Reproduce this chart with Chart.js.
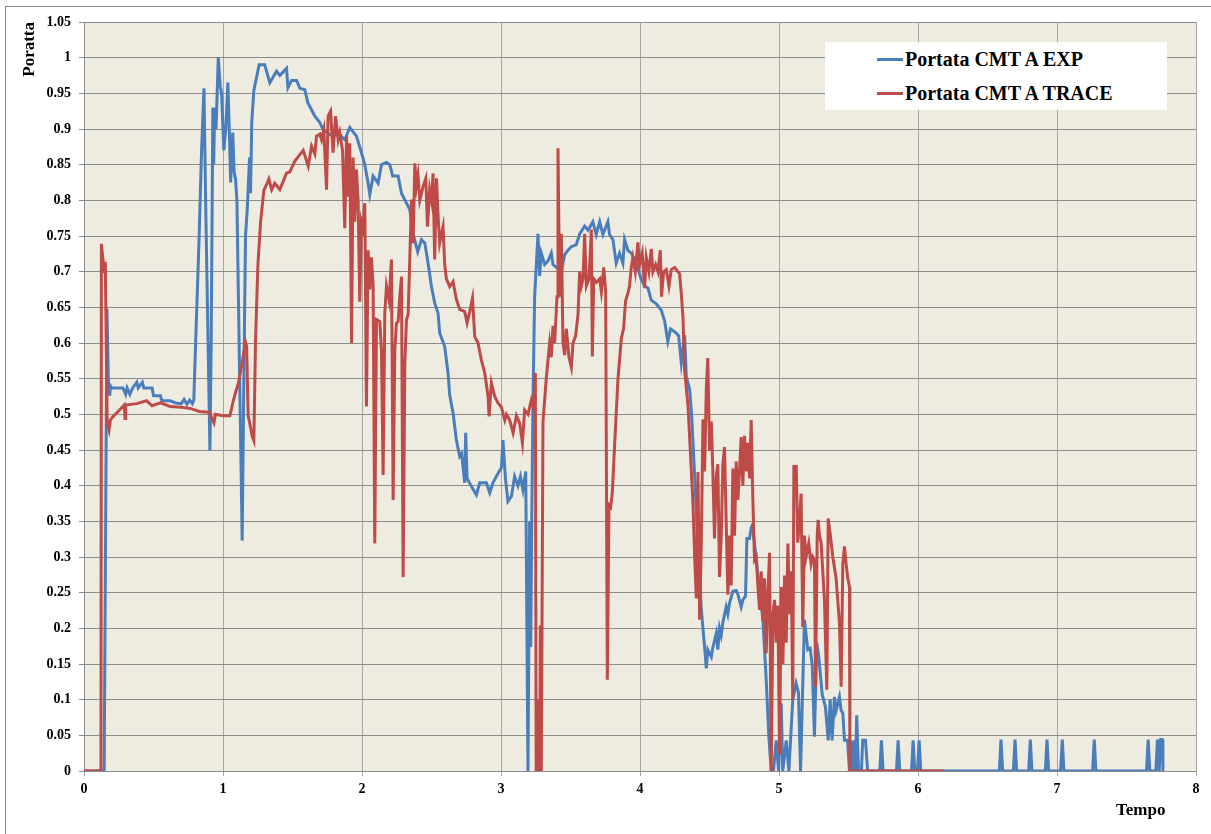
<!DOCTYPE html>
<html>
<head>
<meta charset="utf-8">
<script src="https://cdn.jsdelivr.net/npm/chart.js@4.4.1/dist/chart.umd.min.js"></script>
<style>
    html, body { margin: 0; padding: 0; background: #ffffff; overflow: hidden; }
    #wrap { position: relative; width: 1211px; height: 834px; }
    #frame { position: absolute; left: 5px; top: 6px; width: 1300px; height: 1000px; border: 1px solid #8a8a8a; }
    #chart { position: absolute; left: 0; top: 0; }
    .serif { font-family: "Liberation Serif", "Times New Roman", serif; font-weight: bold; color: #000; }
    #legend { position: absolute; left: 825px; top: 42px; width: 342px; height: 68px; background: #ffffff; }
    .row { display: flex; align-items: center; height: 34px; padding-left: 52px; font-size: 20px; }
    .swatch { width: 26px; height: 3px; margin-right: 2px; }
    #xTitle { position: absolute; left: 1116px; top: 800px; line-height: 20px; font-size: 17px; }
</style>
</head>
<body>
<div id="wrap">
    <div id="frame"></div>
    <canvas id="chart" width="1211" height="834"></canvas>
    <div id="legend" class="serif">
        <div class="row"><span class="swatch" style="background:#4A7EBB"></span>Portata CMT A EXP</div>
        <div class="row"><span class="swatch" style="background:#BE4B48"></span>Portata CMT A TRACE</div>
    </div>
    <div id="xTitle" class="serif">Tempo</div>
</div>
<script>
const xTicks = [0, 1, 2, 3, 4, 5, 6, 7, 8];
const xTickLabels = ["0", "1", "2", "3", "4", "5", "6", "7", "8"];
const yTicks = [0, 0.05, 0.1, 0.15, 0.2, 0.25, 0.3, 0.35, 0.4, 0.45, 0.5, 0.55, 0.6, 0.65, 0.7, 0.75, 0.8, 0.85, 0.9, 0.95, 1, 1.05];
const yTickLabels = ["0", "0.05", "0.1", "0.15", "0.2", "0.25", "0.3", "0.35", "0.4", "0.45", "0.5", "0.55", "0.6", "0.65", "0.7", "0.75", "0.8", "0.85", "0.9", "0.95", "1", "1.05"];

const seriesNames = ["Portata CMT A EXP", "Portata CMT A TRACE"];

// [tempo, portata]
const expPoints = [
    [0, 0], [0.145, 0], [0.165, 0.648], [0.175, 0.55], [0.185, 0.526], [0.19, 0.54], [0.2, 0.537],
    [0.28, 0.537], [0.3, 0.528], [0.31, 0.537], [0.33, 0.528], [0.35, 0.537], [0.38, 0.545], [0.39, 0.537],
    [0.42, 0.545], [0.43, 0.537], [0.49, 0.537], [0.5, 0.526], [0.55, 0.526], [0.56, 0.519], [0.62, 0.519],
    [0.66, 0.516], [0.7, 0.515], [0.72, 0.521], [0.74, 0.514], [0.76, 0.52], [0.78, 0.515], [0.79, 0.52],
    [0.803, 0.6], [0.827, 0.74], [0.845, 0.865], [0.863, 0.957], [0.875, 0.8], [0.906, 0.449], [0.915, 0.6],
    [0.927, 0.93], [0.933, 0.85], [0.94, 0.93], [0.95, 0.9], [0.966, 1.0], [0.98, 0.96], [0.99, 0.95],
    [1.006, 0.87], [1.02, 0.9], [1.035, 0.965], [1.045, 0.9], [1.055, 0.825], [1.07, 0.895], [1.08, 0.84],
    [1.09, 0.83], [1.1, 0.8], [1.138, 0.323], [1.15, 0.55], [1.162, 0.75], [1.175, 0.789], [1.191, 0.86],
    [1.198, 0.81], [1.207, 0.91], [1.222, 0.954], [1.26, 0.99], [1.3, 0.99], [1.337, 0.965], [1.385, 0.981],
    [1.409, 0.975], [1.457, 0.985], [1.467, 0.958], [1.493, 0.968], [1.529, 0.968], [1.553, 0.957],
    [1.589, 0.955], [1.61, 0.937], [1.637, 0.927], [1.661, 0.918], [1.697, 0.909], [1.718, 0.9],
    [1.768, 0.892], [1.84, 0.892], [1.876, 0.885], [1.912, 0.902], [1.96, 0.89], [1.996, 0.867],
    [2.02, 0.85], [2.044, 0.824], [2.056, 0.808], [2.08, 0.834], [2.116, 0.824], [2.14, 0.85],
    [2.176, 0.853], [2.2, 0.85], [2.221, 0.834], [2.26, 0.834], [2.284, 0.81], [2.32, 0.796],
    [2.344, 0.787], [2.365, 0.755], [2.401, 0.728], [2.428, 0.745], [2.452, 0.74], [2.475, 0.712],
    [2.5, 0.679], [2.523, 0.656], [2.547, 0.642], [2.559, 0.614], [2.595, 0.595], [2.619, 0.558],
    [2.631, 0.527], [2.655, 0.502], [2.679, 0.464], [2.703, 0.441], [2.717, 0.445], [2.739, 0.404],
    [2.746, 0.474], [2.756, 0.41], [2.787, 0.399], [2.823, 0.387], [2.847, 0.404], [2.895, 0.404],
    [2.919, 0.39], [2.942, 0.404], [2.978, 0.417], [3.003, 0.425], [3.014, 0.464], [3.032, 0.41],
    [3.05, 0.378], [3.075, 0.385], [3.098, 0.413], [3.122, 0.4], [3.14, 0.413], [3.158, 0.394],
    [3.178, 0.42], [3.194, 0], [3.206, 0.35], [3.214, 0.174], [3.221, 0.35], [3.23, 0.519], [3.242, 0.665],
    [3.266, 0.753], [3.278, 0.694], [3.29, 0.726], [3.314, 0.71], [3.338, 0.715], [3.362, 0.726],
    [3.374, 0.71], [3.434, 0.7], [3.458, 0.724], [3.482, 0.73], [3.506, 0.735], [3.542, 0.738],
    [3.566, 0.753], [3.602, 0.764], [3.626, 0.758], [3.661, 0.77], [3.685, 0.752], [3.71, 0.77],
    [3.733, 0.752], [3.769, 0.77], [3.781, 0.752], [3.805, 0.745], [3.829, 0.712], [3.853, 0.726],
    [3.877, 0.712], [3.889, 0.745], [3.913, 0.73], [3.937, 0.726], [3.973, 0.712], [4.009, 0.689],
    [4.033, 0.68], [4.057, 0.677], [4.081, 0.66], [4.117, 0.655], [4.153, 0.646], [4.177, 0.631],
    [4.2, 0.602], [4.22, 0.62], [4.261, 0.614], [4.278, 0.61], [4.297, 0.572], [4.321, 0.611],
    [4.333, 0.553], [4.357, 0.535], [4.371, 0.5], [4.393, 0.414], [4.416, 0.316], [4.441, 0.227],
    [4.465, 0.173], [4.477, 0.144], [4.488, 0.17], [4.513, 0.16], [4.524, 0.173], [4.549, 0.193],
    [4.56, 0.17], [4.572, 0.2], [4.584, 0.19], [4.596, 0.208], [4.62, 0.23], [4.632, 0.22], [4.644, 0.235],
    [4.668, 0.252], [4.692, 0.253], [4.704, 0.248], [4.728, 0.23], [4.74, 0.24], [4.759, 0.245],
    [4.769, 0.326], [4.788, 0.326], [4.8, 0.341], [4.809, 0.345], [4.884, 0.212], [4.908, 0.128],
    [4.927, 0.048], [4.944, 0], [4.96, 0], [4.98, 0.043], [4.997, 0], [5.016, 0.095], [5.027, 0],
    [5.052, 0.043], [5.071, 0], [5.099, 0.1], [5.123, 0.123], [5.14, 0.11], [5.155, 0], [5.183, 0.212],
    [5.207, 0.17], [5.224, 0.172], [5.239, 0.149], [5.255, 0.048], [5.272, 0.18], [5.286, 0.16],
    [5.311, 0.107], [5.334, 0.09], [5.354, 0.043], [5.368, 0.1], [5.382, 0.043], [5.399, 0.104],
    [5.411, 0.085], [5.435, 0.104], [5.447, 0.085], [5.459, 0.081], [5.471, 0.043], [5.493, 0.043],
    [5.507, 0], [5.519, 0.043], [5.53, 0], [5.543, 0.043], [5.55, 0], [5.559, 0.078], [5.572, 0],
    [5.593, 0], [5.602, 0.043], [5.622, 0.043], [5.638, 0], [5.725, 0], [5.737, 0.043], [5.749, 0],
    [5.845, 0], [5.857, 0.043], [5.869, 0], [5.953, 0], [5.965, 0.043], [5.977, 0], [5.996, 0],
    [6.008, 0.043], [6.02, 0], [6.585, 0], [6.597, 0.044], [6.609, 0], [6.686, 0], [6.698, 0.044],
    [6.71, 0], [6.796, 0], [6.808, 0.044], [6.82, 0], [6.916, 0], [6.928, 0.044], [6.94, 0], [7.026, 0],
    [7.038, 0.044], [7.05, 0], [7.256, 0], [7.268, 0.044], [7.28, 0], [7.644, 0], [7.656, 0.044],
    [7.668, 0], [7.711, 0], [7.723, 0.044], [7.735, 0], [7.745, 0.044], [7.757, 0.044], [7.762, 0]
];

const tracePoints = [
    [0, 0], [0.122, 0], [0.125, 0.739], [0.135, 0.72], [0.148, 0.698], [0.153, 0.714], [0.167, 0.488],
    [0.18, 0.478], [0.19, 0.492], [0.205, 0.496], [0.24, 0.503], [0.29, 0.513], [0.295, 0.494],
    [0.3, 0.513], [0.38, 0.515], [0.45, 0.519], [0.49, 0.512], [0.55, 0.516], [0.62, 0.511], [0.7, 0.51],
    [0.77, 0.508], [0.83, 0.504], [0.9, 0.503], [0.935, 0.488], [0.945, 0.5], [1.0, 0.498], [1.05, 0.498],
    [1.074, 0.519], [1.094, 0.533], [1.11, 0.543], [1.138, 0.573], [1.162, 0.601], [1.17, 0.595],
    [1.181, 0.498], [1.19, 0.49], [1.21, 0.469], [1.222, 0.463], [1.234, 0.603], [1.251, 0.709],
    [1.27, 0.769], [1.294, 0.814], [1.318, 0.824], [1.33, 0.83], [1.35, 0.815], [1.373, 0.824],
    [1.409, 0.815], [1.457, 0.838], [1.481, 0.84], [1.517, 0.855], [1.553, 0.864], [1.577, 0.87],
    [1.613, 0.848], [1.637, 0.876], [1.661, 0.865], [1.673, 0.89], [1.697, 0.893], [1.709, 0.885],
    [1.725, 0.899], [1.745, 0.815], [1.756, 0.918], [1.774, 0.925], [1.792, 0.867], [1.81, 0.918],
    [1.828, 0.885], [1.84, 0.895], [1.86, 0.87], [1.876, 0.761], [1.889, 0.89], [1.9, 0.805], [1.912, 0.88],
    [1.925, 0.6], [1.936, 0.86], [1.948, 0.77], [1.96, 0.843], [1.972, 0.8], [1.984, 0.658], [1.996, 0.77],
    [2.008, 0.76], [2.02, 0.796], [2.032, 0.511], [2.044, 0.73], [2.056, 0.675], [2.068, 0.72],
    [2.08, 0.68], [2.092, 0.319], [2.104, 0.633], [2.128, 0.63], [2.14, 0.59], [2.152, 0.415],
    [2.164, 0.642], [2.176, 0.68], [2.195, 0.66], [2.212, 0.717], [2.224, 0.38], [2.236, 0.59],
    [2.248, 0.628], [2.26, 0.63], [2.272, 0.665], [2.284, 0.693], [2.296, 0.272], [2.308, 0.57],
    [2.32, 0.633], [2.332, 0.64], [2.344, 0.72], [2.356, 0.801], [2.368, 0.74], [2.38, 0.852],
    [2.392, 0.82], [2.403, 0.835], [2.416, 0.8], [2.44, 0.82], [2.459, 0.831], [2.471, 0.763],
    [2.487, 0.815], [2.5, 0.8], [2.511, 0.838], [2.523, 0.717], [2.536, 0.831], [2.547, 0.78],
    [2.559, 0.74], [2.583, 0.763], [2.595, 0.71], [2.607, 0.69], [2.631, 0.679], [2.655, 0.686],
    [2.679, 0.661], [2.703, 0.647], [2.739, 0.644], [2.756, 0.628], [2.775, 0.644], [2.795, 0.663],
    [2.811, 0.609], [2.835, 0.6], [2.859, 0.576], [2.883, 0.558], [2.907, 0.525], [2.914, 0.497],
    [2.931, 0.544], [2.955, 0.525], [2.978, 0.516], [3.003, 0.51], [3.027, 0.492], [3.039, 0.5],
    [3.063, 0.492], [3.087, 0.474], [3.111, 0.498], [3.134, 0.488], [3.154, 0.46], [3.17, 0.506],
    [3.194, 0.5], [3.218, 0.52], [3.233, 0.51], [3.247, 0.558], [3.253, 0], [3.264, 0], [3.271, 0.1],
    [3.278, 0], [3.283, 0.204], [3.29, 0], [3.302, 0.49], [3.314, 0.52], [3.326, 0.551], [3.35, 0.6],
    [3.362, 0.58], [3.374, 0.624], [3.386, 0.6], [3.403, 0.665], [3.41, 0.873], [3.422, 0.665],
    [3.434, 0.753], [3.446, 0.6], [3.458, 0.583], [3.47, 0.62], [3.489, 0.58], [3.506, 0.566],
    [3.518, 0.6], [3.537, 0.61], [3.554, 0.64], [3.566, 0.7], [3.578, 0.68], [3.59, 0.69], [3.602, 0.753],
    [3.614, 0.68], [3.633, 0.69], [3.65, 0.759], [3.657, 0.581], [3.667, 0.69], [3.686, 0.685],
    [3.71, 0.69], [3.722, 0.672], [3.739, 0.706], [3.753, 0.672], [3.765, 0.128], [3.777, 0.373],
    [3.789, 0.37], [3.801, 0.39], [3.817, 0.455], [3.841, 0.548], [3.866, 0.607], [3.882, 0.62],
    [3.896, 0.659], [3.913, 0.67], [3.925, 0.68], [3.937, 0.706], [3.949, 0.72], [3.966, 0.7],
    [3.985, 0.741], [3.997, 0.71], [4.016, 0.726], [4.033, 0.677], [4.045, 0.72], [4.064, 0.7],
    [4.081, 0.732], [4.093, 0.7], [4.112, 0.71], [4.129, 0.7], [4.146, 0.73], [4.155, 0.665], [4.17, 0.7],
    [4.189, 0.703], [4.208, 0.68], [4.225, 0.703], [4.249, 0.706], [4.273, 0.7], [4.285, 0.697],
    [4.297, 0.67], [4.309, 0.636], [4.321, 0.562], [4.345, 0.513], [4.362, 0.449], [4.381, 0.375],
    [4.393, 0.302], [4.405, 0.242], [4.417, 0.419], [4.429, 0.212], [4.441, 0.32], [4.453, 0.493],
    [4.465, 0.42], [4.477, 0.537], [4.488, 0.579], [4.5, 0.449], [4.513, 0.49], [4.524, 0.42],
    [4.536, 0.326], [4.549, 0.414], [4.56, 0.43], [4.572, 0.272], [4.584, 0.326], [4.596, 0.43],
    [4.608, 0.454], [4.62, 0.35], [4.632, 0.247], [4.644, 0.33], [4.656, 0.26], [4.668, 0.424],
    [4.68, 0.33], [4.692, 0.434], [4.704, 0.38], [4.716, 0.42], [4.728, 0.468], [4.74, 0.4], [4.752, 0.47],
    [4.764, 0.42], [4.776, 0.46], [4.788, 0.41], [4.8, 0.492], [4.812, 0.38], [4.824, 0.296], [4.836, 0.3],
    [4.848, 0.26], [4.86, 0.226], [4.872, 0.28], [4.884, 0.21], [4.896, 0.27], [4.908, 0.165],
    [4.92, 0.25], [4.932, 0.306], [4.944, 0], [4.956, 0.22], [4.968, 0.24], [4.98, 0.18], [4.992, 0.232],
    [5.004, 0.024], [5.016, 0.258], [5.028, 0.15], [5.04, 0.274], [5.052, 0.18], [5.064, 0.319],
    [5.076, 0.22], [5.088, 0.28], [5.099, 0.1], [5.107, 0.427], [5.124, 0.427], [5.135, 0.32],
    [5.147, 0.35], [5.159, 0.389], [5.171, 0.202], [5.183, 0.33], [5.195, 0.3], [5.214, 0.319],
    [5.231, 0.29], [5.243, 0.3], [5.255, 0.295], [5.263, 0.118], [5.275, 0.33], [5.282, 0.352],
    [5.291, 0.33], [5.303, 0.32], [5.327, 0.24], [5.344, 0.114], [5.354, 0.354], [5.37, 0.33],
    [5.387, 0.3], [5.411, 0.27], [5.435, 0.207], [5.447, 0.118], [5.459, 0.29], [5.471, 0.315],
    [5.483, 0.29], [5.495, 0.27], [5.507, 0.258], [5.51, 0], [6.19, 0]
];

const fontFamily = '"Liberation Serif", "Times New Roman", serif';

const plotBackground = {
    id: "plotBackground",
    beforeDraw(chart) {
        const area = chart.chartArea;
        const c = chart.ctx;
        c.save();
        c.fillStyle = "#EEECE1";
        c.fillRect(area.left, area.top, area.right - area.left, area.bottom - area.top);
        c.restore();
    }
};

function toXY(points) {
    return points.map((p) => ({ x: p[0], y: p[1] }));
}

new Chart(document.getElementById("chart"), {
    type: "line",
    data: {
        datasets: [
            {
                label: seriesNames[0],
                data: toXY(expPoints),
                borderColor: "#4A7EBB",
                borderWidth: 3,
                pointRadius: 0,
                tension: 0,
                order: 2
            },
            {
                label: seriesNames[1],
                data: toXY(tracePoints),
                borderColor: "#BE4B48",
                borderWidth: 3,
                pointRadius: 0,
                tension: 0,
                order: 1
            }
        ]
    },
    options: {
        responsive: false,
        animation: false,
        events: [],
        layout: { padding: { left: 19, top: 22, right: 15, bottom: 0 } },
        plugins: {
            legend: { display: false },
            tooltip: { enabled: false }
        },
        scales: {
            x: {
                type: "linear",
                min: 0,
                max: 8,
                afterBuildTicks: (scale) => { scale.ticks = xTicks.map((v) => ({ value: v })); },
                afterFit: (scale) => { scale.height = 63; },
                ticks: {
                    callback: (value, index) => xTickLabels[index],
                    color: "#000",
                    font: { family: fontFamily, size: 14, weight: "bold" },
                    padding: 5,
                    maxRotation: 0,
                    autoSkip: false
                },
                grid: { color: "#a6a6a6", tickLength: 5 },
                border: { color: "#8c8c8c" }
            },
            y: {
                min: 0,
                max: 1.05,
                afterBuildTicks: (scale) => { scale.ticks = yTicks.map((v) => ({ value: v })); },
                afterFit: (scale) => { scale.width = 65; },
                title: {
                    display: true,
                    text: "Poratta",
                    align: "end",
                    color: "#000",
                    font: { family: fontFamily, size: 17, weight: "bold" },
                    padding: { top: 0, bottom: 0 }
                },
                ticks: {
                    callback: (value, index) => yTickLabels[index],
                    color: "#000",
                    font: { family: fontFamily, size: 14, weight: "bold" },
                    padding: 8,
                    autoSkip: false
                },
                grid: { color: "#8c8c8c", tickLength: 5 },
                border: { color: "#8c8c8c" }
            }
        }
    },
    plugins: [plotBackground]
});
</script>
</body>
</html>
